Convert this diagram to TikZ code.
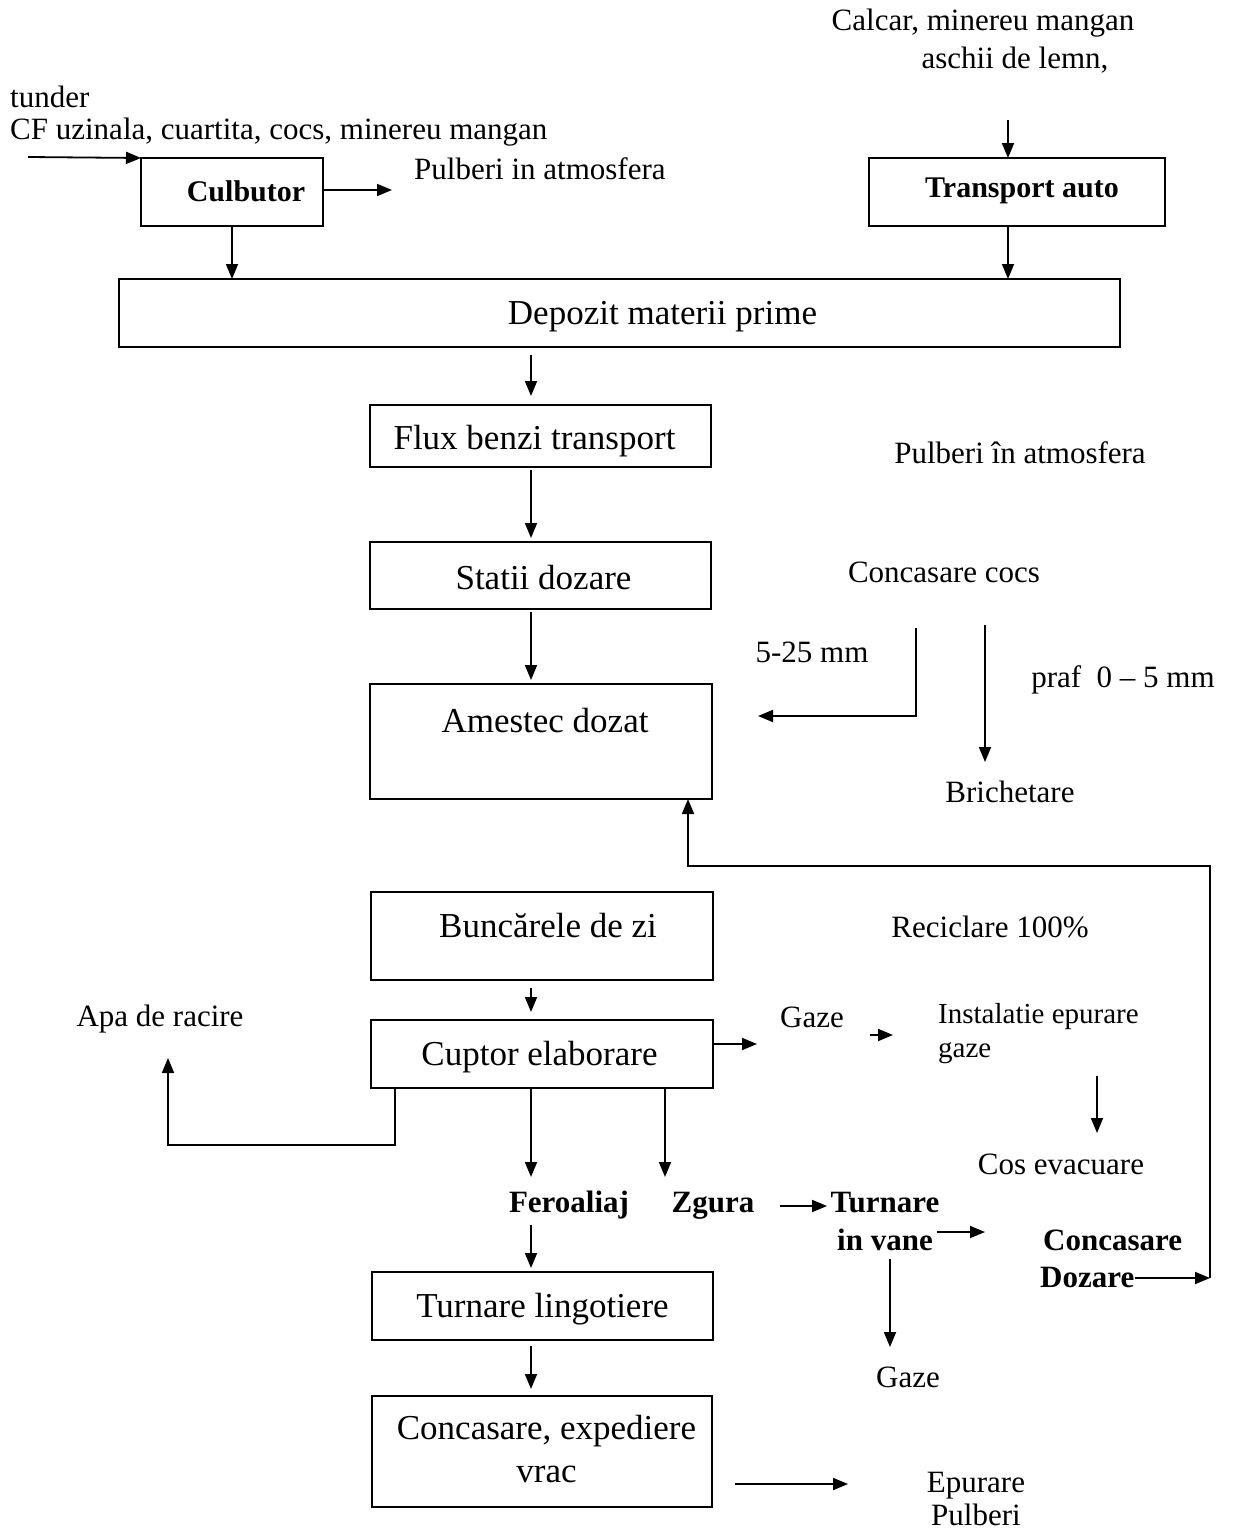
\documentclass[tikz,border=0pt]{standalone}
\usepackage{fontspec}
\setmainfont{Liberation Serif}
\usetikzlibrary{arrows.meta}
\begin{document}
\begin{tikzpicture}[x=1pt,y=-1pt,
  box/.style={draw,line width=2pt,rectangle,inner sep=0pt,outer sep=0pt},
  blab/.style={inner sep=0pt,font=\fontsize{35}{40}\selectfont,align=center},
  bblab/.style={inner sep=0pt,font=\bfseries\fontsize{30}{34}\selectfont},
  txt/.style={inner sep=0pt,font=\fontsize{31}{35}\selectfont},
  btxt/.style={inner sep=0pt,anchor=base,font=\bfseries\fontsize{31}{37}\selectfont},
  arr/.style={line width=1.8pt,-{Triangle[length=15pt,width=12pt]}},
  ln/.style={line width=1.8pt}]
\useasboundingbox (0,0) rectangle (1232,1531);

% boxes
\node[box,minimum width=182pt,minimum height=68pt,label={[bblab,xshift=14pt,yshift=1pt]center:Culbutor}] (culbutor) at (232,192) {};
\node[box,minimum width=296pt,minimum height=68pt,label={[bblab,xshift=5pt,yshift=1pt]center:Transport auto}] (transport) at (1017,192) {};
\node[box,minimum width=1001pt,minimum height=68pt,label={[blab,xshift=43pt,yshift=-4pt]center:Depozit materii prime}] (depozit) at (619.5,313) {};
\node[box,minimum width=341pt,minimum height=62pt,label={[blab,xshift=-6pt,yshift=-5pt]center:Flux benzi transport}] (flux) at (540.5,436) {};
\node[box,minimum width=341pt,minimum height=67pt,label={[blab,xshift=3pt,yshift=-2pt]center:Statii dozare}] (statii) at (540.5,575.5) {};
\node[box,minimum width=342pt,minimum height=115pt,label={[blab,xshift=4pt,yshift=21pt]center:Amestec dozat}] (amestec) at (541,741.5) {};
\node[box,minimum width=342pt,minimum height=88pt,label={[blab,xshift=6pt,yshift=10pt]center:Buncărele de zi}] (buncarele) at (542,936) {};
\node[box,minimum width=342pt,minimum height=68pt,label={[blab,xshift=-2.5pt,yshift=-3pt]center:Cuptor elaborare}] (cuptor) at (542,1054) {};
\node[box,minimum width=341pt,minimum height=68pt,label={[blab,yshift=-3pt]center:Turnare lingotiere}] (lingotiere) at (542.5,1306) {};
\node[box,minimum width=340pt,minimum height=111pt,label={[blab,xshift=4.5pt,yshift=2pt,font=\fontsize{35}{43}\selectfont]center:Concasare, expediere\\vrac}] (expediere) at (542,1451.5) {};

% free texts
\node[txt,anchor=west] (tunder) at (10,97) {tunder};
\node[txt,anchor=west] (cf) at (10,132) {CF uzinala, cuartita, cocs, minereu mangan};
\node[txt,anchor=west] (pulb1) at (414,169) {Pulberi in atmosfera};
\node[txt] (calcar) at (983,23) {Calcar, minereu mangan};
\node[txt] (aschii) at (1015,60) {aschii de lemn,};
\node[txt] (pulb2) at (1020,453) {Pulberi în atmosfera};
\node[txt] (cocs) at (944,572) {Concasare cocs};
\node[txt] (mm525) at (812,652) {5-25 mm};
\node[txt] (praf) at (1123,680) {praf\ \ 0 – 5 mm};
\node[txt] (brich) at (1010,792) {Brichetare};
\node[txt] (recic) at (990,927) {Reciclare 100\%};
\node[txt] (apa) at (160,1019) {Apa de racire};
\node[txt] (gaze1) at (812,1017) {Gaze};
\node[txt,font=\fontsize{29}{34}\selectfont,align=left,anchor=west] (instal) at (938,1034) {Instalatie epurare\\gaze};
\node[txt] (cos) at (1061,1164) {Cos evacuare};
\node[btxt] (fero) at (569,1212) {Feroaliaj};
\node[btxt] (zgura) at (713,1212) {Zgura};
\node[btxt] (turnare) at (885,1212) {Turnare};
\node[btxt] (vane) at (885,1250) {in vane};
\node[btxt,anchor=base west] (concas) at (1043,1250) {Concasare};
\node[btxt,anchor=base west] (dozare) at (1040,1287) {Dozare};
\node[txt] (gaze2) at (908,1377) {Gaze};
\node[txt,align=center,font=\fontsize{31}{33}\selectfont] (epurare) at (976,1499) {Epurare\\Pulberi};

% coordinates
\coordinate (in1) at (28,157);
\coordinate (p1) at (392,190);
\coordinate (t0) at (1008,120);
\coordinate (col) at (531,0);
\coordinate (k1) at (916,628);
\coordinate (k2) at (758,716);
\coordinate (b1) at (985,625);
\coordinate (b2) at (985,762);
\coordinate (rc) at (688,866);
\coordinate (g1) at (757,1044);
\coordinate (g2) at (870,1035);
\coordinate (g3) at (893,1035);
\coordinate (e1) at (1097,1076);
\coordinate (e2) at (1097,1133);
\coordinate (w1) at (395,1145);
\coordinate (w2) at (168,1058);
\coordinate (z1) at (665,1177);
\coordinate (s1) at (780,1206);
\coordinate (s2) at (827,1206);
\coordinate (v1) at (937,1232);
\coordinate (v2) at (985,1232);
\coordinate (v3) at (890,1347);
\coordinate (q1) at (735,1484);
\coordinate (q2) at (848,1484);
\coordinate (r1) at (1210,1278);

% connectors
\draw[arr] (in1) -- (culbutor.north west);
\draw[arr] (culbutor.east |- p1) -- (p1);
\draw[arr] (culbutor.south) -- (culbutor.south |- depozit.north);
\draw[arr] (t0) -- (t0 |- transport.north);
\draw[arr] (t0 |- transport.south) -- (t0 |- depozit.north);
\draw[arr,shorten <=8pt,shorten >=9pt] (col |- depozit.south) -- (col |- flux.north);
\draw[arr,shorten <=3pt,shorten >=4pt] (col |- flux.south) -- (col |- statii.north);
\draw[arr,shorten <=3pt,shorten >=4pt] (col |- statii.south) -- (col |- amestec.north);
\draw[arr] (k1) |- (k2);
\draw[arr] (b1) -- (b2);
\draw[arr] (dozare.east |- r1) -- (r1);
\draw[arr] (r1) |- (rc) -- (rc |- amestec.south);
\draw[arr,shorten <=8pt,shorten >=8pt] (col |- buncarele.south) -- (col |- cuptor.north);
\draw[arr] (cuptor.east |- g1) -- (g1);
\draw[arr] (g2) -- (g3);
\draw[arr] (e1) -- (e2);
\draw[arr] (w1 |- cuptor.south) -- (w1) -| (w2);
\draw[arr] (col |- cuptor.south) -- (col |- z1);
\draw[arr] (z1 |- cuptor.south) -- (z1);
\draw[arr] (s1) -- (s2);
\draw[arr] (v1) -- (v2);
\draw[arr,shorten <=8pt] (v3 |- vane.south) -- (v3);
\draw[arr,shorten <=6pt,shorten >=4pt] (col |- fero.south) -- (col |- lingotiere.north);
\draw[arr,shorten <=6pt,shorten >=7pt] (col |- lingotiere.south) -- (col |- expediere.north);
\draw[arr] (q1) -- (q2);
\end{tikzpicture}
\end{document}
